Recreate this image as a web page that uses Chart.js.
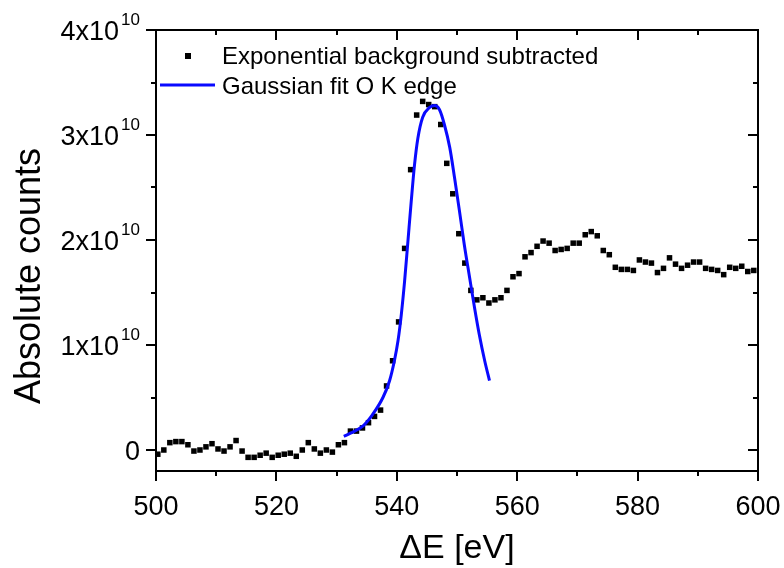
<!DOCTYPE html>
<html>
<head>
<meta charset="utf-8">
<script src="https://cdn.jsdelivr.net/npm/chart.js@4"></script>
<style>
  html, body { margin: 0; padding: 0; background: #fff; overflow: hidden; }
  canvas { display: block; }
</style>
</head>
<body>
<canvas id="eels" width="784" height="568"></canvas>
<script>
// energy loss axis of the measured spectrum [eV]
const energies = [
  500.3, 501.3, 502.3, 503.3, 504.3, 505.3, 506.3, 507.3, 508.3, 509.3,
  510.3, 511.3, 512.3, 513.3, 514.3, 515.3, 516.3, 517.3, 518.3, 519.3,
  520.3, 521.3, 522.3, 523.3, 524.3, 525.3, 526.3, 527.3, 528.3, 529.3,
  530.3, 531.3, 532.3, 533.3, 534.3, 535.3, 536.3, 537.3, 538.3, 539.3,
  540.3, 541.3, 542.3, 543.3, 544.3, 545.3, 546.3, 547.3, 548.3, 549.3,
  550.3, 551.3, 552.3, 553.3, 554.3, 555.3, 556.3, 557.3, 558.3, 559.3,
  560.3, 561.3, 562.3, 563.3, 564.3, 565.3, 566.3, 567.3, 568.3, 569.3,
  570.3, 571.3, 572.3, 573.3, 574.3, 575.3, 576.3, 577.3, 578.3, 579.3,
  580.3, 581.3, 582.3, 583.3, 584.3, 585.3, 586.3, 587.3, 588.3, 589.3,
  590.3, 591.3, 592.3, 593.3, 594.3, 595.3, 596.3, 597.3, 598.3, 599.3
];
// background subtracted counts, in units of 1e10
const counts = [
  -0.04, 0.00, 0.07, 0.08, 0.08, 0.05, -0.01, 0.00, 0.03, 0.06,
  0.01, -0.01, 0.03, 0.09, -0.01, -0.07, -0.07, -0.05, -0.03, -0.07,
  -0.05, -0.04, -0.03, -0.06, 0.00, 0.07, 0.01, -0.03, 0.00, -0.02,
  0.05, 0.07, 0.18, 0.18, 0.21, 0.26, 0.32, 0.38, 0.61, 0.85,
  1.22, 1.92, 2.67, 3.19, 3.32, 3.29, 3.27, 3.10, 2.73, 2.44,
  2.06, 1.78, 1.52, 1.43, 1.45, 1.40, 1.43, 1.45, 1.52, 1.65,
  1.68, 1.84, 1.88, 1.94, 1.99, 1.97, 1.90, 1.91, 1.92, 1.97,
  1.97, 2.05, 2.08, 2.04, 1.90, 1.86, 1.74, 1.72, 1.72, 1.71,
  1.81, 1.79, 1.78, 1.69, 1.73, 1.83, 1.77, 1.73, 1.76, 1.79,
  1.79, 1.73, 1.72, 1.71, 1.67, 1.74, 1.73, 1.75, 1.70, 1.71
];
// gaussian fit of the O K edge
const fitEnergies = [
  531.2, 532.3, 534.4, 536.0, 537.7, 538.8, 539.6, 540.2, 540.75, 541.3,
  541.85, 542.4, 542.95, 543.5, 544.3, 545.4, 546.3, 547.1, 547.9, 548.8,
  549.6, 550.4, 551.2, 552.1, 552.9, 553.7, 554.6, 555.4
];
const fitCounts = [
  0.13, 0.16, 0.23, 0.34, 0.50, 0.66, 0.85, 1.04, 1.29, 1.61,
  1.99, 2.37, 2.72, 2.97, 3.17, 3.26, 3.28, 3.24, 3.10, 2.88,
  2.59, 2.28, 1.96, 1.64, 1.36, 1.10, 0.85, 0.66
];

const xTicks = [500, 520, 540, 560, 580, 600];
const yTickValues = [0, 1, 2, 3, 4];
const yTickBases = ['0', '1x10', '2x10', '3x10', '4x10'];
const yTickExps = ['', '10', '10', '10', '10'];
const legendLabels = ['Exponential background subtracted', 'Gaussian fit O K edge'];

const FONT = '"Liberation Sans", Arial, sans-serif';
const BLUE = '#0a0aff';

const framePlugin = {
  id: 'frame',
  afterDraw(chart) {
    const ctx = chart.ctx;
    const a = chart.chartArea;
    const xs = chart.scales.x, ys = chart.scales.y;
    ctx.save();
    ctx.strokeStyle = '#000';
    ctx.lineWidth = 2;
    ctx.strokeRect(a.left, a.top, a.right - a.left, a.bottom - a.top);

    // ticks: bottom/left outward, top/right inward
    ctx.beginPath();
    for (let v = xs.min; v <= xs.max; v += 10) {
      const px = Math.round(xs.getPixelForValue(v));
      const len = (v % 20 === 0) ? 10 : 5;
      ctx.moveTo(px, a.bottom); ctx.lineTo(px, a.bottom + len);
      ctx.moveTo(px, a.top); ctx.lineTo(px, a.top + len);
    }
    for (let v = 0; v <= ys.max + 1e-9; v += 0.5) {
      const py = Math.round(ys.getPixelForValue(v));
      const len = (Math.abs(v % 1) < 1e-9) ? 10 : 5;
      ctx.moveTo(a.left, py); ctx.lineTo(a.left - len, py);
      ctx.moveTo(a.right, py); ctx.lineTo(a.right - len, py);
    }
    ctx.stroke();

    // y tick labels with superscript exponent
    ctx.fillStyle = '#000';
    ctx.textAlign = 'right';
    ctx.textBaseline = 'alphabetic';
    yTickValues.forEach((v, i) => {
      const py = ys.getPixelForValue(v);
      let right = 140;
      if (yTickExps[i]) {
        ctx.font = '17px ' + FONT;
        ctx.fillText(yTickExps[i], right, py - 5);
        right -= ctx.measureText(yTickExps[i]).width + 2;
      }
      ctx.font = '27px ' + FONT;
      ctx.fillText(yTickBases[i], right, py + 10);
    });

    // axis titles
    ctx.textAlign = 'center';
    ctx.font = '34px ' + FONT;
    ctx.fillText('\u0394E [eV]', 457, 558);
    ctx.save();
    ctx.translate(40, 276);
    ctx.rotate(-Math.PI / 2);
    ctx.font = '36px ' + FONT;
    ctx.fillText('Absolute counts', 0, 0);
    ctx.restore();

    // legend inside the plot
    ctx.font = '24px ' + FONT;
    ctx.textAlign = 'left';
    ctx.textBaseline = 'alphabetic';
    ctx.fillRect(185, 53, 6, 6);
    ctx.fillText(legendLabels[0], 222, 64);
    ctx.strokeStyle = BLUE;
    ctx.lineWidth = 3;
    ctx.beginPath();
    ctx.moveTo(160, 85); ctx.lineTo(215, 85);
    ctx.stroke();
    ctx.fillText(legendLabels[1], 222, 94);
    ctx.restore();
  }
};

const chart = new Chart(document.getElementById('eels'), {
  type: 'scatter',
  data: {
    datasets: [{
      label: legendLabels[0],
      data: energies.map((e, i) => ({ x: e, y: counts[i] })),
      pointStyle: 'rect',
      pointRadius: 3.9,
      pointHoverRadius: 3.9,
      backgroundColor: '#000',
      borderWidth: 0,
      order: 2
    }, {
      type: 'line',
      label: legendLabels[1],
      data: fitEnergies.map((e, i) => ({ x: e, y: fitCounts[i] })),
      borderColor: BLUE,
      borderWidth: 3,
      pointRadius: 0,
      cubicInterpolationMode: 'monotone',
      fill: false,
      order: 1
    }]
  },
  options: {
    responsive: false,
    animation: false,
    layout: { padding: { top: 30, right: 26, left: 0, bottom: 0 } },
    plugins: { legend: { display: false }, tooltip: { enabled: false } },
    scales: {
      x: {
        type: 'linear',
        min: 500,
        max: 600,
        afterFit(scale) {
          scale.height = 97;
          scale.paddingLeft = 0;
          scale.paddingRight = 0;
        },
        afterBuildTicks(scale) { scale.ticks = xTicks.map(v => ({ value: v })); },
        grid: { display: false },
        border: { display: false },
        ticks: {
          color: '#000',
          padding: 12,
          maxRotation: 0,
          font: { family: FONT, size: 27 }
        }
      },
      y: {
        min: -0.2,
        max: 4,
        afterFit(scale) {
          scale.width = 156;
          scale.paddingTop = 0;
          scale.paddingBottom = 0;
        },
        grid: { display: false },
        border: { display: false },
        ticks: { display: false }
      }
    }
  },
  plugins: [framePlugin]
});
</script>
</body>
</html>
